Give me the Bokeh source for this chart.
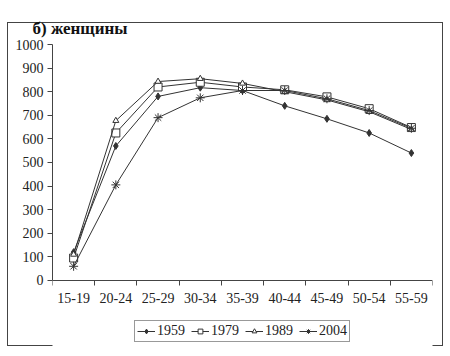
from bokeh.plotting import figure
from bokeh.models import (Range1d, FixedTicker, LinearAxis, Legend, LegendItem)
from bokeh.embed import file_html
from bokeh.resources import INLINE

ages = ["15-19", "20-24", "25-29", "30-34", "35-39", "40-44", "45-49", "50-54", "55-59"]
y1959 = [120, 570, 780, 817, 805, 740, 685, 625, 540]
y1979 = [95, 625, 820, 840, 820, 808, 778, 728, 648]
y1989 = [110, 677, 843, 855, 835, 800, 765, 715, 640]
y2004 = [60, 405, 690, 774, 805, 805, 770, 720, 645]
years = ["1959", "1979", "1989", "2004"]
y_ticks = list(range(0, 1001, 100))

xs = [i + 0.5 for i in range(len(ages))]

FONT = "Liberation Serif"

p = figure(frame_width=380, frame_height=302, output_backend="svg", toolbar_location=None,
           x_range=Range1d(0, len(ages)), y_range=Range1d(-280, 1000),
           x_axis_type=None, y_axis_type=None,
           min_border_left=52, min_border_right=14, min_border_top=44, min_border_bottom=4,
           title="б) женщины")
p.outline_line_color = None
p.background_fill_color = "white"
p.border_fill_alpha = 0
line = "linear-gradient(#444,#444)"
p.styles = {
    "background-color": "white",
    "background-image": ", ".join([line] * 4),
    "background-size": "436px 1px, 436px 1px, 1px 324px, 1px 324px",
    "background-position": "7px 22px, 7px 345px, 7px 22px, 442px 22px",
    "background-repeat": "no-repeat",
}

p.title.text_font = FONT
p.title.text_font_style = "bold"
p.title.text_font_size = "17px"
p.title.text_color = "#111"
p.title.align = "left"
p.title.offset = -20
p.title.vertical_align = "top"

# axes
yax = LinearAxis(ticker=FixedTicker(ticks=y_ticks), bounds=(0, 1000))
yax.major_tick_out = 5
yax.major_tick_in = 0
yax.minor_tick_out = 0
yax.major_label_standoff = 4
yax.major_label_text_font = FONT
yax.major_label_text_font_size = "14px"
yax.major_label_text_color = "#222"
yax.axis_line_color = "#444"
yax.major_tick_line_color = "#444"
p.add_layout(yax, "left")

xax = LinearAxis(ticker=FixedTicker(ticks=xs, minor_ticks=list(range(len(ages) + 1))),
                 fixed_location=0)
xax.major_label_overrides = {x: a for x, a in zip(xs, ages)}
xax.major_tick_out = 0
xax.major_tick_in = 0
xax.minor_tick_out = 5
xax.minor_tick_in = 0
xax.major_label_standoff = 8
xax.major_label_text_font = FONT
xax.major_label_text_font_size = "14px"
xax.major_label_text_color = "#222"
xax.axis_line_color = "#444"
xax.minor_tick_line_color = "#444"
p.add_layout(xax, "below")

p.ygrid.ticker = FixedTicker(ticks=y_ticks)
p.ygrid.grid_line_color = "#8a8a8a"
p.xgrid.grid_line_color = None

col = "#333333"
l1 = p.line(xs, y1959, line_color=col, line_width=1)
m1 = p.scatter(xs, y1959, marker="diamond", size=7, line_color=col, fill_color=col)
l2 = p.line(xs, y1979, line_color=col, line_width=1)
m2 = p.scatter(xs, y1979, marker="square", size=8, line_color=col, fill_color="white")
l3 = p.line(xs, y1989, line_color=col, line_width=1)
m3 = p.scatter(xs, y1989, marker="triangle", size=6, line_color=col, fill_color="white")
l4 = p.line(xs, y2004, line_color=col, line_width=1)
m4 = p.scatter(xs, y2004, marker="asterisk", size=9, line_color=col)

legend = Legend(items=[LegendItem(label=years[0], renderers=[l1, m1]),
                       LegendItem(label=years[1], renderers=[l2, m2]),
                       LegendItem(label=years[2], renderers=[l3, m3]),
                       LegendItem(label=years[3], renderers=[l4, m4])],
                orientation="horizontal", location="bottom_center")
legend.label_text_font = FONT
legend.label_text_font_size = "14px"
legend.label_text_color = "#222"
legend.glyph_width = 18
legend.glyph_height = 12
legend.label_standoff = 2
legend.spacing = 6
legend.padding = 2
legend.margin = 4
legend.border_line_color = "#333"
legend.border_line_width = 1
legend.label_height = 14
legend.background_fill_color = "white"
p.add_layout(legend)

open("out.html", "w").write(file_html(p, INLINE))
